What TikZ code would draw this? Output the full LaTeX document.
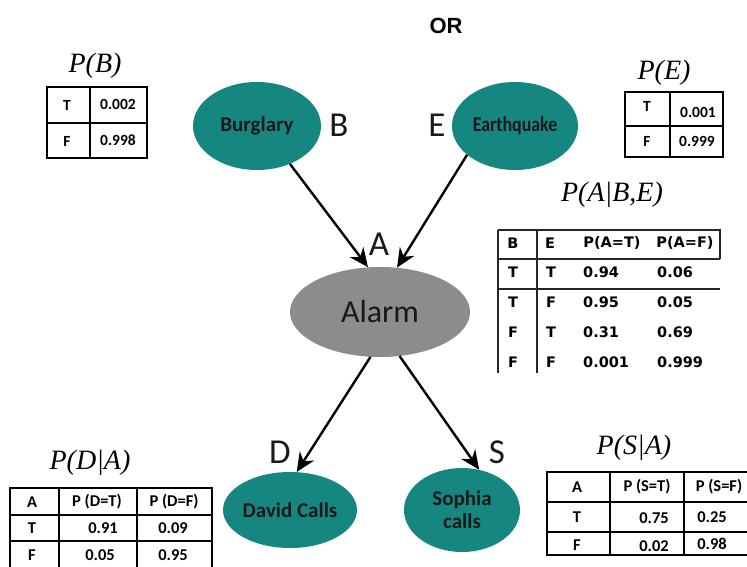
\documentclass[tikz,border=0pt]{standalone}
\usepackage{fontspec}
\usetikzlibrary{shapes.geometric,arrows.meta}
\newfontfamily\calfont{Carlito}
\newfontfamily\verdfont{DejaVu Sans}
\newfontfamily\serfont{Liberation Serif}
\newfontfamily\arfont{Liberation Sans}
\definecolor{teal1}{RGB}{22,134,128}
\definecolor{alarmgray}{RGB}{140,140,140}
\definecolor{ink}{RGB}{25,25,25}
\tikzset{
  var/.style={ellipse, fill=teal1, draw=none, inner sep=0pt, text=ink,
    font=\calfont\bfseries\fontsize{21}{22}\selectfont, align=center},
  letter/.style={font=\calfont\fontsize{35}{36}\selectfont, text=ink, inner sep=0pt},
  ptitle/.style={font=\serfont\itshape\fontsize{28}{30}\selectfont, inner sep=0pt},
  cell/.style={font=\calfont\bfseries\fontsize{15.5}{16}\selectfont, inner sep=0pt},
  bigcell/.style={font=\calfont\bfseries\fontsize{16.5}{18}\selectfont, inner sep=0pt},
  vcell/.style={font=\verdfont\bfseries\fontsize{14.5}{16}\selectfont, inner sep=0pt},
  grid/.style={line width=1.6pt, black},
  thin/.style={line width=1.1pt, black!85},
  edge/.style={line width=2.4pt, -{Stealth[length=19pt,width=17pt]}}
}
\begin{document}
\begin{tikzpicture}[x=1pt,y=-1pt]
\useasboundingbox (0,0) rectangle (747,567);

\node[font=\arfont\bfseries\fontsize{22}{24}\selectfont] (or) at (446,26) {OR};

% network nodes
\node[var, minimum width=128pt, minimum height=88pt] (bur) at (257,126) {Burglary};
\node[var, minimum width=126pt, minimum height=88pt] (eq) at (515,126) {\scalebox{0.85}[1]{Earthquake}};
\node[ellipse, fill=alarmgray, inner sep=0pt, minimum width=180pt, minimum height=90pt,
      font=\calfont\fontsize{32}{34}\selectfont, text=ink] (alarm) at (380,312) {Alarm};
\node[var, minimum width=134pt, minimum height=76pt] (david) at (290,510) {David Calls};
\node[var, minimum width=116pt, minimum height=84pt, font=\calfont\bfseries\fontsize{21}{23}\selectfont] (sophia) at (462,510) {Sophia\\calls};

\node[letter] (lb) at (339,125) {B};
\node[letter] (le) at (437,125) {E};
\node[letter] (la) at (379,244) {A};
\node[letter] (ld) at (280,452) {D};
\node[letter] (ls) at (497,452) {S};

% edges
\draw[edge] (bur.-49) -- (alarm.105);
\draw[edge] (eq.-149) -- (alarm.69);
\draw[edge] (alarm.-102) -- (david.80);
\draw[edge] (alarm.-66) -- (sophia.67);

% P(B)
\node[ptitle] (tb) at (95,66) {P(B)};
\draw[grid] (47,87) rectangle (147,158);
\draw[grid] (90,87) -- (90,158) (47,123) -- (147,123);
\node[cell] (b1) at (67,105) {T};
\node[cell] (b2) at (118,104) {0.002};
\node[cell] (b3) at (67,141) {F};
\node[cell] (b4) at (118,140) {0.998};

% P(E)
\node[ptitle] (te) at (664,73) {P(E)};
\draw[grid] (625,92) rectangle (723,157);
\draw[grid] (670,92) -- (670,157) (625,126) -- (723,126);
\node[cell] (e1) at (647,106) {T};
\node[cell] (e2) at (698,112) {0.001};
\node[cell] (e3) at (647,141) {F};
\node[cell] (e4) at (697,141) {0.999};

% P(A|B,E)
\node[ptitle] (ta) at (612,195) {P(A|B,E)};
\draw[thin] (498,230) -- (720,230) -- (720,259);
\draw[thin] (498,259) -- (720,259) (498,289) -- (720,289);
\draw[thin] (498,230) -- (498,373) (537,230) -- (537,373);
\node[vcell] (h1) at (513,243) {B};
\node[vcell] (h2) at (550,243) {E};
\node[vcell] (h3) at (612,243) {P(A=T)};
\node[vcell] (h4) at (685,243) {P(A=F)};
\node[vcell] (r1a) at (513,272) {T};
\node[vcell] (r1b) at (551,272) {T};
\node[vcell, anchor=west] (r1c) at (583,272) {0.94};
\node[vcell, anchor=west] (r1d) at (657,272) {0.06};
\node[vcell] (r2a) at (513,302) {T};
\node[vcell] (r2b) at (551,302) {F};
\node[vcell, anchor=west] (r2c) at (583,302) {0.95};
\node[vcell, anchor=west] (r2d) at (657,302) {0.05};
\node[vcell] (r3a) at (513,332) {F};
\node[vcell] (r3b) at (551,332) {T};
\node[vcell, anchor=west] (r3c) at (583,332) {0.31};
\node[vcell, anchor=west] (r3d) at (657,332) {0.69};
\node[vcell] (r4a) at (513,362) {F};
\node[vcell] (r4b) at (551,362) {F};
\node[vcell, anchor=west] (r4c) at (583,362) {0.001};
\node[vcell, anchor=west] (r4d) at (657,362) {0.999};

% P(D|A)
\node[ptitle] (td) at (90,463) {P(D|A)};
\draw[grid] (10,567) -- (10,488) -- (212,488) -- (212,567);
\draw[grid] (59,488) -- (59,567) (137,488) -- (137,567);
\draw[grid] (10,515) -- (212,515) (10,541) -- (212,541);
\node[bigcell] (d1) at (32,502) {A};
\node[bigcell] (d2) at (97,502) {P (D=T)};
\node[bigcell] (d3) at (174,502) {P (D=F)};
\node[bigcell] (d4) at (32,528) {T};
\node[bigcell] (d5) at (103,528) {0.91};
\node[bigcell] (d6) at (173,528) {0.09};
\node[bigcell] (d7) at (32,555) {F};
\node[bigcell] (d8) at (100,555) {0.05};
\node[bigcell] (d9) at (173,555) {0.95};

% P(S|A)
\node[ptitle] (ts) at (634,448) {P(S|A)};
\draw[grid] (747,472) -- (547,472) -- (547,555) -- (747,555);
\draw[grid] (610,472) -- (610,555) (684,472) -- (684,555);
\draw[grid] (547,502) -- (747,502) (547,532) -- (747,532);
\node[bigcell] (s1) at (577,487) {A};
\node[bigcell] (s2) at (647,487) {P (S=T)};
\node[bigcell] (s3) at (719,487) {P (S=F)};
\node[bigcell] (s4) at (577,517) {T};
\node[bigcell] (s5) at (654,518) {0.75};
\node[bigcell] (s6) at (712,517) {0.25};
\node[bigcell] (s7) at (577,545) {F};
\node[bigcell] (s8) at (654,546) {0.02};
\node[bigcell] (s9) at (712,544) {0.98};
\end{tikzpicture}
\end{document}
